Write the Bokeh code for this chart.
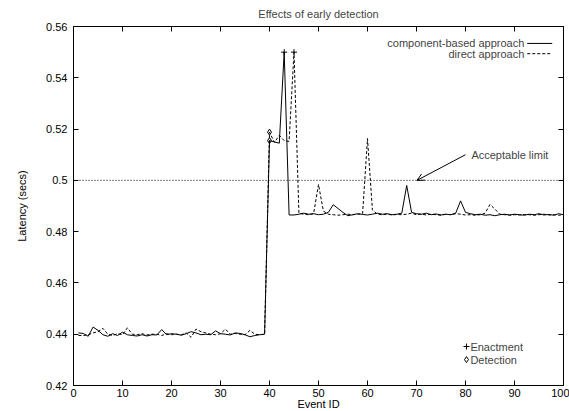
from bokeh.plotting import figure
from bokeh.models import (Range1d, LinearAxis, FixedTicker, Label, Arrow, OpenHead, Span)
from bokeh.embed import file_html
from bokeh.resources import INLINE

FONT = "Liberation Sans"

event_id = list(range(1, 101))

component_based = [
    0.4405, 0.4403, 0.4392, 0.4428, 0.4415, 0.4398, 0.4392, 0.4402, 0.4395, 0.4408,
    0.4398, 0.4395, 0.4393, 0.4398, 0.4393, 0.4398, 0.4397, 0.4418, 0.4398, 0.4402,
    0.4400, 0.4396, 0.4402, 0.4410, 0.4405, 0.4398, 0.4400, 0.4398, 0.4413, 0.4402,
    0.4400, 0.4397, 0.4405, 0.4403, 0.4398, 0.4390, 0.4395, 0.4398, 0.4400, 0.5155,
    0.5150, 0.5145, 0.5500, 0.4865, 0.4865, 0.4868, 0.4872, 0.4868, 0.4870, 0.4866,
    0.4868, 0.4875, 0.4905, 0.4890, 0.4875, 0.4862, 0.4866, 0.4870, 0.4867, 0.4865,
    0.4868, 0.4872, 0.4868, 0.4870, 0.4866, 0.4868, 0.4872, 0.4980, 0.4875, 0.4870,
    0.4868, 0.4872, 0.4866, 0.4869, 0.4865, 0.4868, 0.4866, 0.4872, 0.4920, 0.4875,
    0.4870, 0.4866, 0.4868, 0.4864, 0.4866, 0.4862, 0.4866, 0.4868, 0.4865, 0.4868,
    0.4866, 0.4864, 0.4868, 0.4866, 0.4870, 0.4865, 0.4867, 0.4864, 0.4870, 0.4866,
]

direct = [
    0.4395, 0.4395, 0.4398, 0.4405, 0.4410, 0.4423, 0.4400, 0.4395, 0.4402, 0.4398,
    0.4425, 0.4400, 0.4398, 0.4402, 0.4397, 0.4400, 0.4400, 0.4395, 0.4402, 0.4398,
    0.4400, 0.4398, 0.4405, 0.4388, 0.4420, 0.4410, 0.4405, 0.4400, 0.4398, 0.4402,
    0.4420, 0.4400, 0.4403, 0.4400, 0.4398, 0.4415, 0.4400, 0.4398, 0.4400, 0.5188,
    0.5148, 0.5175, 0.5155, 0.5152, 0.5500, 0.4872, 0.4868, 0.4866, 0.4870, 0.4984,
    0.4880, 0.4868, 0.4866, 0.4864, 0.4866, 0.4868, 0.4866, 0.4868, 0.4870, 0.5163,
    0.4885, 0.4868, 0.4866, 0.4868, 0.4865, 0.4867, 0.4866, 0.4868, 0.4872, 0.4866,
    0.4868, 0.4865, 0.4868, 0.4866, 0.4864, 0.4868, 0.4866, 0.4870, 0.4868, 0.4865,
    0.4866, 0.4864, 0.4866, 0.4872, 0.4906, 0.4888, 0.4868, 0.4866, 0.4864, 0.4866,
    0.4865, 0.4867, 0.4866, 0.4864, 0.4866, 0.4868, 0.4865, 0.4866, 0.4864, 0.4866,
]

# events marked on each series
enactment_component = [43]
enactment_direct = [45]
detection_component = [40]
detection_direct = [40]

acceptable_limit = 0.5

x_ticks = [0, 10, 20, 30, 40, 50, 60, 70, 80, 90, 100]
y_ticks = [0.42, 0.44, 0.46, 0.48, 0.50, 0.52, 0.54, 0.56]
y_tick_labels = ["0.42", "0.44", "0.46", "0.48", "0.5", "0.52", "0.54", "0.56"]

p = figure(frame_width=490, frame_height=359, output_backend="svg", toolbar_location=None,
           x_range=Range1d(0, 100), y_range=Range1d(0.42, 0.56),
           min_border_left=73, min_border_right=6, min_border_top=26, min_border_bottom=26,
           title="Effects of early detection")
p.title.text_font = FONT
p.title.text_font_size = "11px"
p.title.text_font_style = "normal"
p.title.align = "center"
p.title.vertical_align = "top"
p.title.standoff = 10
p.grid.visible = False
p.outline_line_color = "black"
p.outline_line_width = 1
p.background_fill_color = "white"
p.border_fill_color = "white"

xt = FixedTicker(ticks=x_ticks)
yt = FixedTicker(ticks=y_ticks)

for ax in (p.xaxis[0], p.yaxis[0]):
    ax.major_tick_in = 5
    ax.major_tick_out = 0
    ax.minor_tick_line_color = None
    ax.axis_line_color = "black"
    ax.major_tick_line_color = "black"
    ax.major_label_text_font = FONT
    ax.major_label_text_font_size = "11px"
    ax.major_label_text_color = "black"
    ax.axis_label_text_font = FONT
    ax.axis_label_text_font_size = "11px"
    ax.axis_label_text_font_style = "normal"
    ax.axis_label_text_color = "black"

p.xaxis[0].ticker = xt
p.yaxis[0].ticker = yt
p.yaxis[0].major_label_overrides = {t: s for t, s in zip(y_ticks, y_tick_labels)}
p.xaxis[0].axis_label = "Event ID"
p.yaxis[0].axis_label = "Latency (secs)"
p.xaxis[0].major_label_standoff = 3
p.xaxis[0].axis_label_standoff = -2
p.yaxis[0].major_label_standoff = 6
p.yaxis[0].axis_label_standoff = 15

for side, tk, ticks in (("above", xt, x_ticks), ("right", yt, y_ticks)):
    ax = LinearAxis(ticker=tk, major_tick_in=5, major_tick_out=0,
                    minor_tick_line_color=None, axis_line_color="black",
                    major_label_overrides={t: "" for t in ticks},
                    major_label_text_font_size="11px", major_label_standoff=0)
    p.add_layout(ax, side)

# acceptable limit
p.add_layout(Span(location=acceptable_limit, dimension="width", line_color="black",
                  line_width=1, line_dash="1 2"))

p.line(event_id, component_based, line_color="black", line_width=1)
p.line(event_id, direct, line_color="black", line_width=1, line_dash="3 2")

# markers
def pick(ids, series):
    return [series[event_id.index(i)] for i in ids]

p.scatter(enactment_component, pick(enactment_component, component_based), marker="cross",
          size=6, line_color="black", line_width=1)
p.scatter(enactment_direct, pick(enactment_direct, direct), marker="cross",
          size=6, line_color="black", line_width=1)
p.scatter(detection_component, pick(detection_component, component_based), marker="diamond",
          size=6, line_color="black", fill_color=None, line_width=1)
p.scatter(detection_direct, pick(detection_direct, direct), marker="diamond",
          size=6, line_color="black", fill_color=None, line_width=1)

# annotation arrow
p.add_layout(Arrow(end=OpenHead(size=7, line_color="black", line_width=1),
                   x_start=80.0, y_start=0.51, x_end=70.1, y_end=acceptable_limit,
                   line_color="black", line_width=1))
p.add_layout(Label(x=81.2, y=0.51, text="Acceptable limit", text_font=FONT,
                   text_font_size="11px", text_baseline="middle", text_align="left"))

# series legend (top right, gnuplot style)
leg_items = [("component-based approach", None), ("direct approach", "3 2")]
leg_y = [0.5534, 0.5494]
for (name, dash), yy in zip(leg_items, leg_y):
    p.add_layout(Label(x=92.0, y=yy, text=name, text_font=FONT, text_font_size="11px",
                       text_baseline="middle", text_align="right"))
    kw = {"line_dash": dash} if dash else {}
    p.line([92.6, 97.7], [yy, yy], line_color="black", line_width=1, **kw)

# marker legend (bottom right)
mk_items = [("Enactment", "cross"), ("Detection", "diamond")]
mk_y = [0.4352, 0.4301]
for (name, mk), yy in zip(mk_items, mk_y):
    p.scatter([80.2], [yy], marker=mk, size=6, line_color="black", fill_color=None, line_width=1)
    p.add_layout(Label(x=81.0, y=yy, text=name, text_font=FONT, text_font_size="11px",
                       text_baseline="middle", text_align="left"))

open("out.html", "w").write(file_html(p, INLINE))
